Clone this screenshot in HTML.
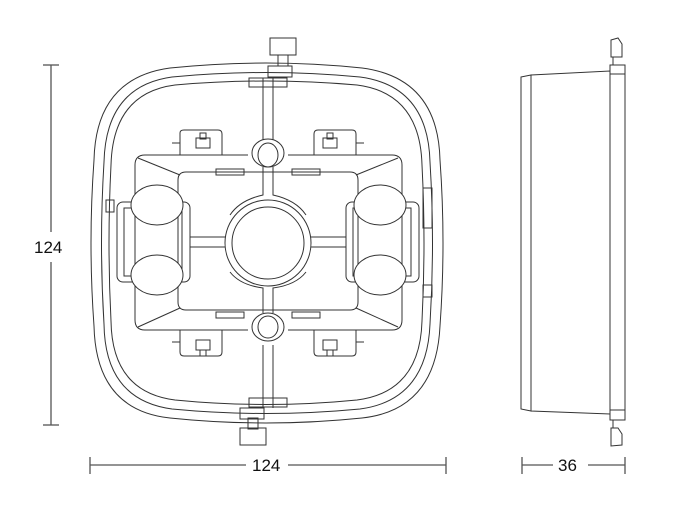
<!DOCTYPE html>
<html><head><meta charset="utf-8"><style>
html,body{margin:0;padding:0;background:#fff;}
svg{display:block;}
text{font-family:"Liberation Sans",Arial,sans-serif;font-size:17px;fill:#111;}
</style></head><body>
<svg width="695" height="524" viewBox="0 0 695 524" xmlns="http://www.w3.org/2000/svg">
<g fill="none" stroke="#333" stroke-width="1">
<!-- dimension lines -->
<g stroke="#555" stroke-width="1.3">
<line x1="51" y1="65" x2="51" y2="232"/><line x1="51" y1="262" x2="51" y2="425"/>
<line x1="43" y1="65" x2="59" y2="65"/><line x1="43" y1="425" x2="59" y2="425"/>
<line x1="90" y1="465" x2="246" y2="465"/><line x1="288" y1="465" x2="446" y2="465"/>
<line x1="90" y1="457" x2="90" y2="474"/><line x1="446" y1="457" x2="446" y2="474"/>
<line x1="522" y1="465" x2="553" y2="465"/><line x1="588" y1="465" x2="625" y2="465"/>
<line x1="522" y1="457" x2="522" y2="474"/><line x1="625" y1="457" x2="625" y2="474"/>
</g>
<!-- outer frame rings -->
<path d="M170,68 Q266,58 362,68 Q438,78 440,160 Q446,243 440,326 Q436,410 362,418 Q266,428 170,418 Q96,410 94,326 Q88,243 94,160 Q96,78 170,68 Z"/>
<path d="M172,77 Q266,68 360,77 Q428,86 430,162 Q435,243 430,324 Q427,400 360,409 Q266,418 172,409 Q105,400 104,324 Q99,243 104,162 Q106,86 172,77 Z"/>
<path d="M175,85 Q266,77 357,85 Q420,93 422,165 Q426,243 422,321 Q420,392 357,400 Q266,409 175,400 Q112,392 111,321 Q107,243 111,165 Q113,93 175,85 Z"/>
<!-- top & bottom clips -->
<rect x="270" y="38" width="26" height="17"/><rect x="278" y="55" width="10" height="11"/>
<rect x="268" y="66" width="24" height="11"/><rect x="249" y="78" width="38" height="9"/>
<rect x="240" y="428" width="26" height="17"/><rect x="248" y="418" width="10" height="11"/>
<rect x="240" y="408" width="24" height="11"/><rect x="249" y="398" width="38" height="9"/>
<!-- vertical bar -->
<line x1="263" y1="78" x2="263" y2="140"/><line x1="273" y1="78" x2="273" y2="140"/>
<line x1="263" y1="345" x2="263" y2="408"/><line x1="273" y1="345" x2="273" y2="408"/>
<!-- ovals -->
<ellipse cx="268" cy="153" rx="16" ry="14"/><ellipse cx="268" cy="155" rx="10" ry="12"/>
<ellipse cx="268" cy="327" rx="16" ry="14"/><ellipse cx="268" cy="327" rx="10" ry="11"/>
<!-- central circle and cross -->
<circle cx="268" cy="243" r="43"/><circle cx="268" cy="243" r="36"/>
<path d="M263,167 L263,195 Q240,200 230,215"/><path d="M273,167 L273,195 Q296,200 306,215"/>
<path d="M263,313 L263,288 Q240,285 230,272"/><path d="M273,313 L273,288 Q296,285 306,272"/>
<line x1="190" y1="237" x2="225" y2="237"/><line x1="190" y1="247" x2="225" y2="247"/>
<line x1="311" y1="237" x2="346" y2="237"/><line x1="311" y1="247" x2="346" y2="247"/>
<!-- inner box -->
<path d="M145,155 L248,155 M288,155 L392,155 Q402,155 402,165 L402,320 Q402,330 392,330 L288,330 M248,330 L145,330 Q135,330 135,320 L135,165 Q135,155 145,155"/>
<path d="M186,172 L350,172 Q358,172 358,180 L358,302 Q358,310 350,310 L186,310 Q178,310 178,302 L178,180 Q178,172 186,172 Z"/>
<line x1="138" y1="158" x2="180" y2="175"/><line x1="398" y1="158" x2="356" y2="175"/>
<line x1="138" y1="327" x2="180" y2="308"/><line x1="398" y1="327" x2="356" y2="308"/>
<rect x="216" y="169" width="28" height="6"/><rect x="292" y="169" width="28" height="6"/>
<rect x="216" y="312" width="28" height="6"/><rect x="292" y="312" width="28" height="6"/>
<!-- ear tabs -->
<path d="M180,155 L180,133 Q180,130 184,130 L218,130 Q222,130 222,134 L222,155"/>
<path d="M314,155 L314,134 Q314,130 318,130 L352,130 Q356,130 356,134 L356,155"/>
<path d="M180,330 L180,352 Q180,356 184,356 L218,356 Q222,356 222,352 L222,330"/>
<path d="M314,330 L314,352 Q314,356 318,356 L352,356 Q356,356 356,352 L356,330"/>
<rect x="196" y="138" width="14" height="10"/><rect x="200" y="133" width="6" height="6"/>
<rect x="323" y="138" width="14" height="10"/><rect x="327" y="133" width="6" height="6"/>
<rect x="196" y="340" width="14" height="10"/><rect x="200" y="350" width="6" height="6"/>
<rect x="323" y="340" width="14" height="10"/><rect x="327" y="350" width="6" height="6"/>
<line x1="172" y1="143" x2="180" y2="143"/><line x1="356" y1="143" x2="364" y2="143"/>
<line x1="172" y1="342" x2="180" y2="342"/><line x1="356" y1="342" x2="364" y2="342"/>
<!-- side handles -->
<rect x="117" y="202" width="73" height="80" rx="6"/><rect x="124" y="208" width="58" height="68"/>
<ellipse cx="157" cy="205" rx="26" ry="20" fill="#fff"/><ellipse cx="157" cy="275" rx="26" ry="20" fill="#fff"/>
<rect x="346" y="202" width="73" height="80" rx="6"/><rect x="353" y="208" width="58" height="68"/>
<ellipse cx="380" cy="205" rx="26" ry="20" fill="#fff"/><ellipse cx="380" cy="275" rx="26" ry="20" fill="#fff"/>
<rect x="106" y="200" width="8" height="12"/><rect x="423" y="188" width="9" height="40"/><rect x="423" y="285" width="9" height="12"/>
<!-- side view -->
<path d="M531,75 L610,71 L610,414 L531,411 Z"/>
<path d="M521,77 L531,75 L531,411 L521,409 Z"/>
<rect x="610" y="65" width="15" height="355"/>
<line x1="610" y1="74" x2="625" y2="74"/><line x1="610" y1="410" x2="625" y2="410"/>
<path d="M611,40 L618,38 L622,44 L622,57 L611,57 Z"/><line x1="613" y1="57" x2="613" y2="65"/>
<path d="M611,428 L618,428 L622,434 L622,445 L611,446 Z"/><line x1="613" y1="420" x2="613" y2="428"/>
</g>
<text x="34" y="253">124</text>
<text x="252" y="471">124</text>
<text x="558" y="471">36</text>
</svg>
</body></html>
